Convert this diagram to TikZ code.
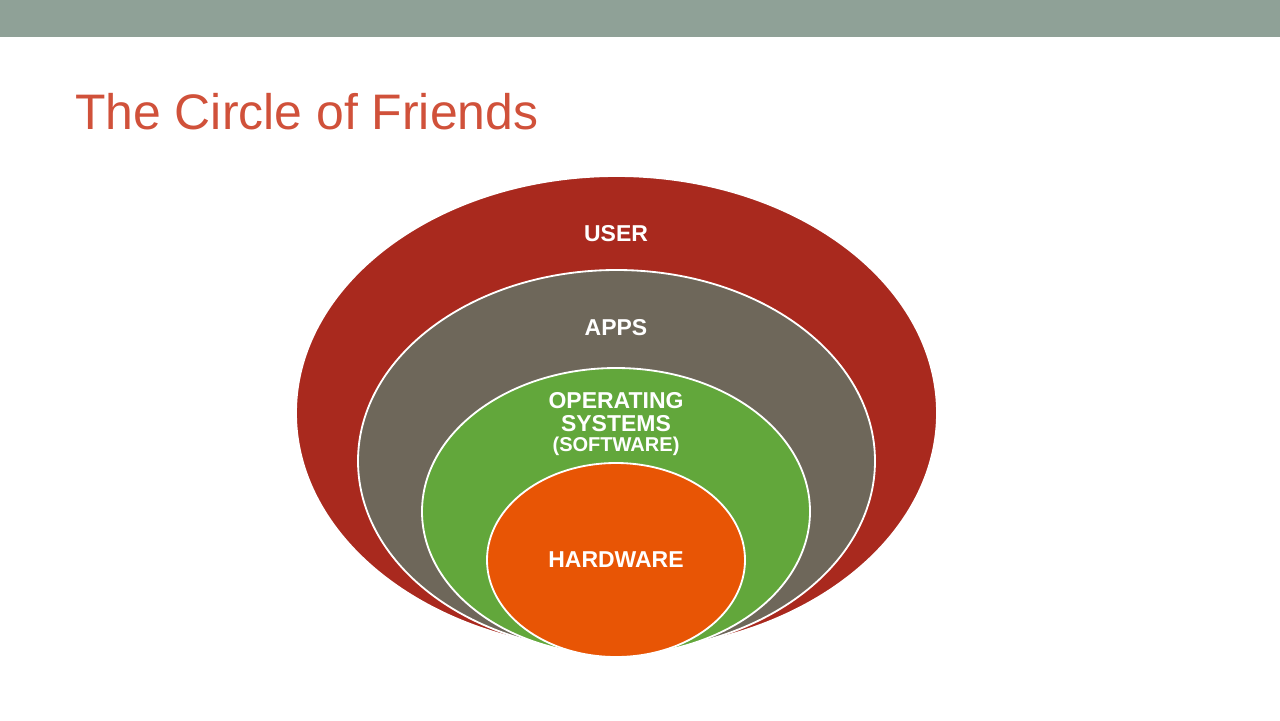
\documentclass[tikz,border=0pt]{standalone}
\usepackage{fontspec}
\setmainfont{Liberation Sans}
\usetikzlibrary{shapes.geometric,positioning}
\definecolor{balken}{HTML}{8FA197}
\definecolor{titelrot}{HTML}{D0513A}
\definecolor{userrot}{HTML}{A9291E}
\definecolor{appsgrau}{HTML}{6E675A}
\definecolor{osgruen}{HTML}{62A73B}
\definecolor{hworange}{HTML}{E85505}
\begin{document}
\begin{tikzpicture}[x=0.05cm,y=-0.05cm]
    \def\px{0.05cm}
    \tikzset{
      ring/.style={ellipse,draw=white,line width=2.6pt,inner sep=0pt},
      beschriftung/.style={text=white,font=\bfseries\fontsize{32.7}{32.7}\selectfont,align=center}
    }
    \useasboundingbox (0,0) rectangle (1280,720);
    % Balken und Titel
    \fill[balken] (0,0) rectangle (1280,37);
    \node[anchor=base west,inner sep=0pt,text=titelrot,font=\fontsize{71}{71}\selectfont] (titel) at (75,129) {The Circle of Friends};
    % Ringe
    \node[ring,fill=userrot,minimum width=641*\px,minimum height=474*\px] (user) at (616.5,413) {};
    \node[ring,fill=appsgrau,minimum width=517*\px,minimum height=382*\px] (apps) at (616.5,461) {};
    \node[ring,fill=osgruen,minimum width=388*\px,minimum height=287*\px] (os) at (616,511.5) {};
    \node[ring,fill=hworange,minimum width=258*\px,minimum height=194*\px] (hw) at (616,560) {};
    % Beschriftungen
    \node[beschriftung] (userlabel) at (616,234) {USER};
    \node[beschriftung] (appslabel) at (616,328) {APPS};
    \node[beschriftung] (oslabel) at (616,424) {OPERATING\\SYSTEMS\\[-3pt]{\fontsize{28.5}{28.5}\selectfont(SOFTWARE)}};
    \node[beschriftung] (hwlabel) at (616,560) {HARDWARE};
\end{tikzpicture}
\end{document}
